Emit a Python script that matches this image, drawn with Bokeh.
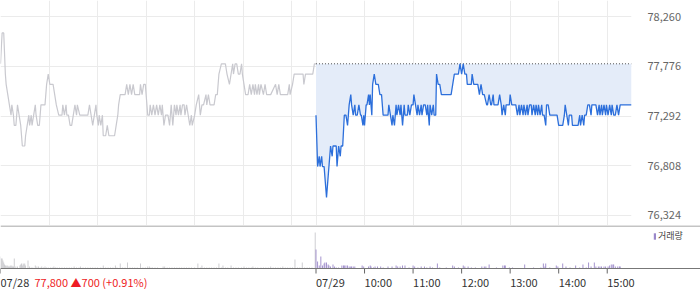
from bokeh.plotting import figure
from bokeh.layouts import column
from bokeh.models import (FixedTicker, NumeralTickFormatter, Range1d, Span, Legend, LegendItem)
from bokeh.embed import file_html
from bokeh.resources import INLINE
from bokeh.core.properties import value

# ---------------- data ----------------
session_len = 390  # minutes 09:00-15:30
date_labels = ["07/28", "07/29"]
hour_labels = ["10:00", "11:00", "12:00", "13:00", "14:00", "15:00"]
header_text = "77,800 \u25b2700 (+0.91%)"
legend_text = "거래량"
prev_close = 77800
y_ticks = [76324, 76808, 77292, 77776, 78260]

# Day 1 (07/28) : minutes after 09:00, price
d1_min = [0, 2, 4, 6, 7, 9, 11, 13, 14, 16, 17, 19, 21, 23, 25, 26, 27, 30, 31, 33, 35, 36, 38, 39, 41, 43, 44, 46, 48, 50,
          55, 57, 59, 61, 65, 67, 69, 72, 76, 77, 79, 81, 82, 84, 86, 88, 90, 92, 94, 95, 98, 108, 110, 112, 114, 116, 118,
          119, 121, 122, 124, 126, 127, 130, 132, 134, 141, 143, 145, 146, 148, 154, 156, 158, 160, 162, 164, 166, 172,
          173, 175, 177, 179, 182, 184, 185, 187, 189, 191, 193, 195, 197, 199, 200, 202, 204, 207, 209, 211, 213, 215,
          217, 218, 220, 222, 223, 225, 227, 228, 230, 232, 234, 236, 237, 240, 242, 245, 247, 249, 251, 254, 255, 257,
          259, 262, 264, 266, 268, 270, 273, 278, 280, 283, 285, 287, 288, 290, 292, 294, 296, 298, 299, 301, 303, 306,
          308, 310, 312, 314, 315, 317, 319, 320, 322, 325, 327, 329, 334, 340, 342, 344, 346, 355, 357, 358, 361, 363,
          374, 375, 377, 386, 388, 390]
d1_price = [77800, 78100, 78100, 77700, 77600, 77500, 77400, 77300, 77400, 77300, 77200, 77200, 77400, 77300, 77200,
            77100, 77000, 77000, 77100, 77200, 77300, 77200, 77300, 77200, 77300, 77400, 77300, 77200, 77200, 77400,
            77400, 77600, 77700, 77600, 77600, 77500, 77400, 77300, 77300, 77400, 77300, 77400, 77300, 77300, 77200,
            77200, 77300, 77400, 77300, 77400, 77300, 77300, 77400, 77300, 77200, 77300, 77400, 77300, 77200, 77300,
            77200, 77300, 77100, 77100, 77200, 77100, 77100, 77200, 77300, 77400, 77500, 77500, 77600, 77500, 77600,
            77500, 77600, 77500, 77500, 77600, 77500, 77600, 77600, 77300, 77300, 77400, 77300, 77400, 77300, 77400,
            77300, 77400, 77300, 77400, 77200, 77300, 77300, 77200, 77400, 77200, 77400, 77300, 77400, 77300, 77400,
            77300, 77400, 77400, 77300, 77400, 77300, 77200, 77300, 77200, 77300, 77400, 77500, 77300, 77400, 77400,
            77500, 77400, 77500, 77400, 77400, 77400, 77500, 77500, 77700, 77800, 77800, 77700, 77600, 77700, 77800,
            77700, 77800, 77800, 77700, 77700, 77800, 77700, 77600, 77500, 77500, 77600, 77500, 77600, 77500, 77600,
            77500, 77600, 77500, 77600, 77500, 77600, 77500, 77500, 77600, 77500, 77600, 77500, 77500, 77600, 77500,
            77600, 77700, 77700, 77600, 77700, 77700, 77800, 77800]

# Day 2 (07/29) : minutes after 09:00, price
d2_min = [0, 2, 4, 5, 7, 8, 10, 12, 13, 14, 16, 18, 20, 21, 25, 26, 28, 30, 31, 33, 35, 37, 39, 41, 43, 44, 46, 48, 49,
          51, 53, 55, 56, 58, 59, 60, 62, 63, 65, 66, 67, 69, 70, 72, 74, 77, 79, 81, 83, 89, 90, 92, 94, 95, 97, 99,
          100, 102, 104, 105, 107, 109, 110, 113, 114, 116, 118, 120, 121, 123, 125, 126, 128, 130, 131, 133, 135, 137,
          138, 140, 141, 143, 145, 146, 148, 149, 151, 153, 155, 167, 169, 171, 176, 178, 180, 182, 184, 186, 187, 192,
          193, 195, 200, 202, 204, 206, 208, 211, 212, 214, 216, 217, 219, 220, 223, 225, 227, 229, 230, 232, 234, 235,
          239, 240, 242, 247, 249, 251, 252, 254, 256, 257, 259, 261, 262, 264, 266, 267, 269, 271, 272, 274, 275, 277,
          279, 280, 282, 284, 285, 287, 289, 298, 300, 305, 307, 308, 310, 312, 313, 316, 317, 324, 326, 327, 329, 331,
          332, 334, 336, 338, 340, 341, 346, 348, 350, 351, 353, 354, 356, 358, 359, 361, 363, 365, 366, 368, 370, 372,
          374, 376, 388, 390]
d2_price = [77300, 76800, 76900, 76800, 76900, 76800, 76800, 76600, 76500, 76600, 76800, 77000, 76900, 77000, 77000,
            76800, 77000, 76900, 77000, 77000, 77300, 77300, 77200, 77400, 77500, 77400, 77300, 77400, 77300, 77300,
            77400, 77300, 77300, 77200, 77300, 77200, 77400, 77400, 77500, 77400, 77500, 77300, 77600, 77700, 77600,
            77600, 77500, 77500, 77300, 77300, 77400, 77300, 77200, 77300, 77200, 77400, 77300, 77400, 77300, 77400,
            77200, 77400, 77300, 77300, 77400, 77300, 77400, 77400, 77500, 77400, 77300, 77400, 77300, 77400, 77300,
            77400, 77400, 77300, 77400, 77200, 77400, 77300, 77400, 77300, 77300, 77700, 77600, 77600, 77500, 77500,
            77600, 77700, 77700, 77800, 77700, 77800, 77700, 77700, 77600, 77600, 77700, 77600, 77600, 77500, 77600,
            77500, 77500, 77400, 77400, 77500, 77400, 77400, 77500, 77400, 77400, 77400, 77500, 77400, 77300, 77400,
            77300, 77400, 77400, 77500, 77400, 77400, 77300, 77400, 77300, 77400, 77300, 77400, 77300, 77400, 77300,
            77400, 77400, 77300, 77400, 77300, 77400, 77300, 77400, 77300, 77400, 77300, 77300, 77200, 77400, 77400,
            77300, 77300, 77200, 77200, 77300, 77400, 77300, 77200, 77300, 77300, 77200, 77200, 77300, 77200, 77300,
            77200, 77300, 77300, 77400, 77400, 77300, 77400, 77400, 77300, 77400, 77300, 77400, 77300, 77400, 77300,
            77400, 77300, 77400, 77300, 77400, 77300, 77300, 77400, 77300, 77400, 77400, 77400]

# Volume (thousand shares) : minute after 09:00, volume
v1_min = [0, 1, 2, 3, 4, 5, 6, 7, 8, 9, 10, 11, 12, 13, 14, 15, 16, 17, 19, 21, 24, 25, 26, 27, 28, 29, 30, 31, 34, 36,
          38, 40, 43, 45, 47, 49, 51, 53, 55, 57, 59, 62, 64, 66, 68, 70, 73, 76, 79, 82, 85, 88, 91, 94, 97, 99, 102,
          105, 108, 111, 114, 117, 120, 124, 127, 130, 133, 136, 139, 142, 144, 148, 151, 154, 157, 160, 163, 166, 169,
          173, 176, 179, 182, 184, 186, 188, 191, 194, 201, 203, 206, 209, 212, 215, 218, 221, 224, 227, 230, 233, 236,
          240, 244, 247, 249, 252, 255, 258, 261, 264, 267, 270, 273, 275, 278, 281, 285, 288, 291, 294, 298, 301, 304,
          307, 310, 312, 315, 318, 322, 325, 328, 331, 334, 337, 340, 343, 346, 349, 352, 355, 358, 361, 364, 367, 370,
          373, 376, 379, 382, 385, 389]
v1_vol = [12, 10, 10, 8, 6, 4, 3, 3, 2, 3, 2, 2, 3, 2, 3, 2, 2, 10, 2, 2, 3, 4, 5, 3, 5, 4, 5, 3, 8, 2,
          1, 1, 3, 2, 2, 1, 2, 1, 2, 1, 1, 1, 1, 2, 1, 1, 1, 1, 1, 1, 1, 1, 2, 1, 1, 2, 1,
          1, 1, 1, 1, 1, 1, 1, 3, 1, 1, 1, 1, 3, 1, 5, 1, 1, 6, 1, 1, 1, 1,
          5, 1, 1, 2, 2, 1, 1, 1, 1, 2, 2, 1, 1, 1, 1, 1, 1, 1, 1, 1, 1, 1,
          1, 5, 1, 3, 1, 1, 1, 1, 1, 1, 5, 1, 3, 1, 1, 3, 1, 1, 1, 1, 2, 1,
          1, 1, 2, 1, 1, 1, 1, 1, 1, 2, 1, 1, 1, 1, 2, 1, 1, 1, 1, 9, 1, 1,
          6, 1, 1, 1, 1, 36]
v2_min = [0, 2, 4, 6, 8, 10, 11, 13, 15, 16, 18, 21, 23, 25, 28, 32, 34, 35, 37, 39, 41, 43, 44, 46, 48, 57, 59, 65, 67,
          68, 71, 73, 76, 80, 83, 89, 94, 99, 101, 104, 107, 110, 115, 120, 122, 126, 130, 134, 137, 141, 144, 150, 153,
          161, 169, 171, 176, 182, 184, 188, 192, 197, 205, 208, 210, 214, 223, 231, 233, 234, 239, 243, 258, 269, 278,
          281, 283, 284, 289, 297, 299, 305, 309, 314, 321, 326, 330, 334, 337, 340, 344, 346, 349, 351, 353, 356, 358,
          361, 363, 365, 367, 368, 370, 373, 375, 376]
v2_vol = [19, 7, 3, 12, 3, 5, 6, 6, 4, 3, 2, 4, 2, 1, 1, 3, 3, 3, 3, 3, 2, 2, 2, 2, 2, 3, 2, 2, 3,
          2, 1, 2, 2, 2, 1, 2, 2, 3, 2, 2, 3, 3, 1, 3, 2, 1, 2, 2, 1, 2, 1, 5, 1,
          1, 3, 2, 1, 3, 2, 2, 1, 1, 2, 2, 2, 4, 1, 3, 3, 3, 1, 1, 4, 1, 1,
          5, 2, 5, 1, 3, 2, 5, 2, 1, 3, 1, 4, 1, 6, 2, 6, 2, 2, 2, 2, 2, 2,
          2, 3, 4, 4, 4, 2, 2, 2, 2]

# ---------------- layout constants ----------------
FONT = "Noto Sans CJK KR"
PRICE_W, RIGHT_W = 631, 69
TOTAL_W = PRICE_W + RIGHT_W
x_end = 2 * session_len
vol_x_end = x_end * TOTAL_W / PRICE_W
px_per_min = PRICE_W / x_end

d2_x = [session_len + m for m in d2_min]
v2_x = [session_len + m for m in v2_min]
hour_offsets = [(int(h[:2]) - 9) * 60 for h in hour_labels]
grid_x = hour_offsets + [session_len] + [session_len + h for h in hour_offsets]

# ---------------- price panel ----------------
p = figure(frame_width=PRICE_W, frame_height=225, output_backend="svg", toolbar_location=None,
           x_range=Range1d(0, x_end), y_range=Range1d(76226.7, 78415.7),
           x_axis_location=None, y_axis_location="right",
           min_border_left=0, min_border_right=RIGHT_W, min_border_top=0, min_border_bottom=0)
p.outline_line_color = None
p.background_fill_color = "white"
p.border_fill_color = "white"
p.xgrid.ticker = FixedTicker(ticks=grid_x)
p.ygrid.ticker = FixedTicker(ticks=y_ticks)
p.xgrid.grid_line_color = "#ebebeb"
p.ygrid.grid_line_color = "#ebebeb"

ya = p.yaxis[0]
ya.ticker = FixedTicker(ticks=y_ticks)
ya.formatter = NumeralTickFormatter(format="0,0")
ya.axis_line_color = None
ya.major_tick_line_color = None
ya.minor_tick_line_color = None
ya.major_label_standoff = 10
ya.major_label_text_font = FONT
ya.major_label_text_font_size = "11px"
ya.major_label_text_color = "#666666"

p.varea(x=d2_x, y1=d2_price, y2=[prev_close] * len(d2_x), fill_color="#e4ecf9")
p.line(x=[d2_x[0], d2_x[-1]], y=[prev_close, prev_close], line_color="#555555",
       line_dash="1 2", line_width=1)
p.line(x=d1_min, y=d1_price, line_color="#c9c9cf", line_width=1.2)
p.line(x=d2_x, y=d2_price, line_color="#2c6fdb", line_width=1.3)

# ---------------- volume panel (with tick-label strip below the baseline) ----------------
# y in thousand shares; frame spans 43 units above the baseline and 21 below it (1 unit = 1 px)
v = figure(frame_width=TOTAL_W, frame_height=64, output_backend="svg", toolbar_location=None,
           x_range=Range1d(0, vol_x_end), y_range=Range1d(-21, 43),
           x_axis_location=None, y_axis_location=None,
           min_border_left=0, min_border_right=0, min_border_top=0, min_border_bottom=0)
v.outline_line_color = None
v.xgrid.visible = False
v.ygrid.visible = False
v.background_fill_color = "white"
v.border_fill_color = "white"

v.vbar(x=v1_min, top=v1_vol, width=1.1, fill_color="#c8c8cc", line_color=None)
r2 = v.vbar(x=v2_x, top=v2_vol, width=1.1, fill_color="#9a87c9", line_color=None)
v.add_layout(Span(location=42.5, dimension="width", line_color="#8a8a8a", line_width=1))
v.add_layout(Span(location=0, dimension="width", line_color="#777777", line_width=1))

tick_pos = [0, session_len] + [session_len + h for h in hour_offsets]
tick_text = date_labels + hour_labels
v.segment(x0=tick_pos, y0=[0] * len(tick_pos), x1=tick_pos, y1=[-5] * len(tick_pos),
          line_color="#666666", line_width=1)
v.text(x=tick_pos, y=[-13] * len(tick_pos), text=tick_text, text_font=value(FONT),
       text_font_size="11px", text_color="#333333", text_baseline="middle", text_align="left")
hdr_x = [tick_pos[0] + 34 / px_per_min]
v.text(x=hdr_x, y=[-13], text=[header_text], text_font=value(FONT),
       text_font_size="11px", text_color="#ee1c24", text_baseline="middle", text_align="left")

legend = Legend(items=[LegendItem(label=legend_text, renderers=[r2])], location=(653, 47),
                glyph_width=3, glyph_height=8, label_text_font=FONT, label_text_font_size="9px",
                label_text_color="#444444", padding=0, margin=0, border_line_color=None,
                background_fill_alpha=0, label_standoff=2, label_height=9, spacing=0)
v.add_layout(legend)

layout = column(p, v, spacing=0)
open("out.html", "w").write(file_html(layout, INLINE))
